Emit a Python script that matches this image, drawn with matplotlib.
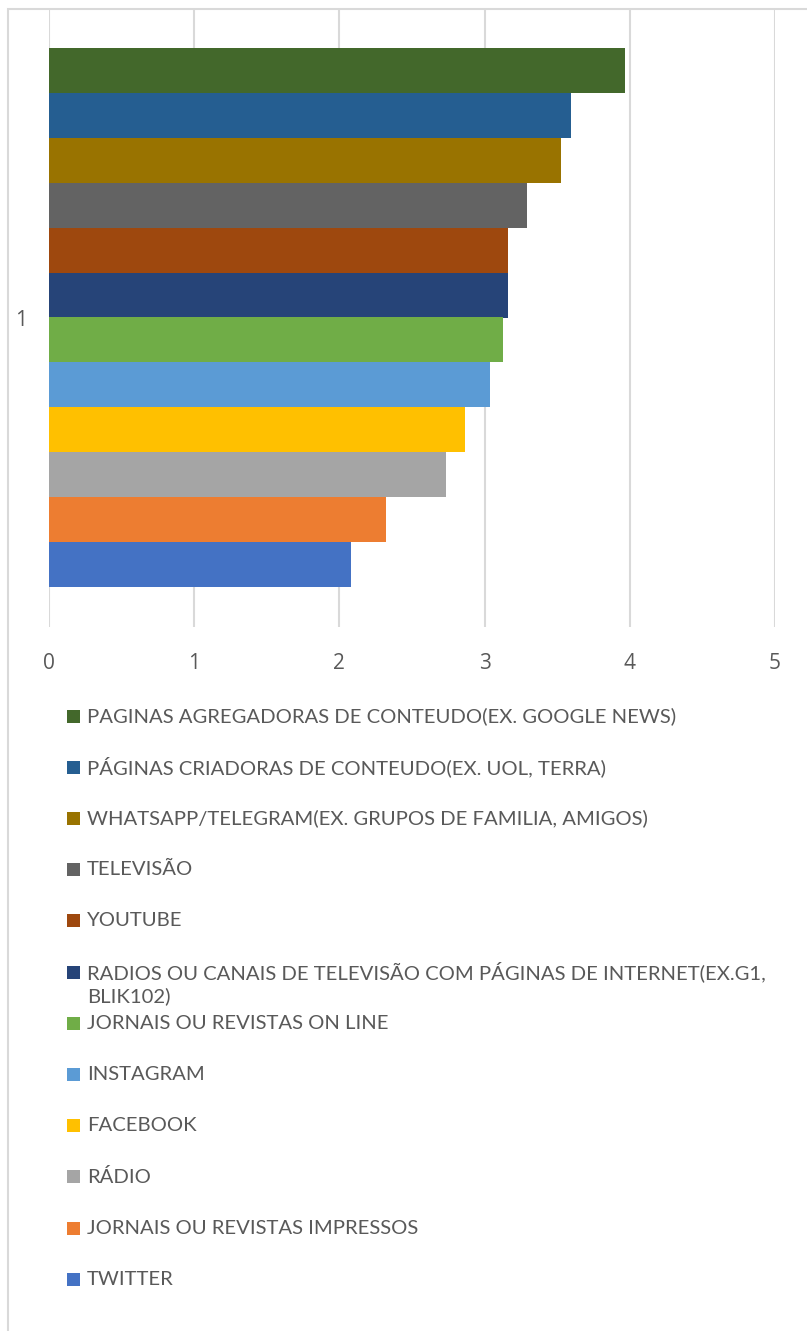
import matplotlib
matplotlib.use("Agg")
import matplotlib.pyplot as plt
from matplotlib.patches import Rectangle

categories = ["1"]
series_labels = [
    "PAGINAS AGREGADORAS DE CONTEUDO(EX. GOOGLE NEWS)",
    "PÁGINAS CRIADORAS DE CONTEUDO(EX. UOL, TERRA)",
    "WHATSAPP/TELEGRAM(EX. GRUPOS DE FAMILIA, AMIGOS)",
    "TELEVISÃO",
    "YOUTUBE",
    "RADIOS OU CANAIS DE TELEVISÃO COM PÁGINAS DE INTERNET(EX.G1,\nBLIK102)",
    "JORNAIS OU REVISTAS ON LINE",
    "INSTAGRAM",
    "FACEBOOK",
    "RÁDIO",
    "JORNAIS OU REVISTAS IMPRESSOS",
    "TWITTER",
]
series_values = [3.97, 3.595, 3.525, 3.29, 3.16, 3.16, 3.13, 3.04, 2.865, 2.735, 2.32, 2.08]
series_colors = ["#43682B", "#255E91", "#997300", "#636363", "#9E480E", "#264478",
                 "#70AD47", "#5B9BD5", "#FFC000", "#A5A5A5", "#ED7D31", "#4472C4"]
x_ticks = [0, 1, 2, 3, 4, 5]

W, H = 807, 1331
fig = plt.figure(figsize=(W / 100, H / 100), dpi=100)
plt.rcParams['font.family'] = ['Lato', 'DejaVu Sans']
txt = "#595959"
grid = "#D9D9D9"

# chart frame (cropped)
fig.patches.append(Rectangle((8 / W, -0.1), 1.2, 1.1 - 9 / H, transform=fig.transFigure,
                             fill=False, edgecolor=grid, linewidth=1.5))

ax = fig.add_axes([49 / W, 1 - 627 / H, (775 - 49) / W, (627 - 8) / H])
n = len(series_values)
band = 0.871
bw = band / n
for i, (v, c) in enumerate(zip(series_values, series_colors)):
    ax.barh(1 + (n / 2 - 0.5 - i) * bw, v, height=bw, color=c, zorder=3)

ax.set_xlim(0, 5)
ax.set_ylim(0.5, 1.5)
ax.set_xticks(x_ticks)
ax.set_xticklabels([str(t) for t in x_ticks], family=['Open Sans', 'DejaVu Sans'])
ax.set_yticks([1])
ax.set_yticklabels(categories, family=['Open Sans', 'DejaVu Sans'])
ax.tick_params(axis='both', length=0, colors=txt, labelsize=15)
ax.tick_params(axis='x', pad=19)
ax.tick_params(axis='y', pad=16)
ax.grid(axis='x', color=grid, linewidth=1.5, zorder=0)
for s in ax.spines.values():
    s.set_visible(False)

# legend
y0 = 716
step = 51.2
for i, (lab, c) in enumerate(zip(series_labels, series_colors)):
    yc = y0 + step * i
    fig.patches.append(Rectangle((67 / W, 1 - (yc + 6.5) / H), 13 / W, 13 / H,
                                 transform=fig.transFigure, facecolor=c, edgecolor='none'))
    for k, line in enumerate(lab.split("\n")):
        fig.text(87 / W, 1 - (yc + 24 * k) / H, line, ha='left', va='center',
                 fontsize=14.6, color=txt)

fig.savefig("out.png", dpi=100)
